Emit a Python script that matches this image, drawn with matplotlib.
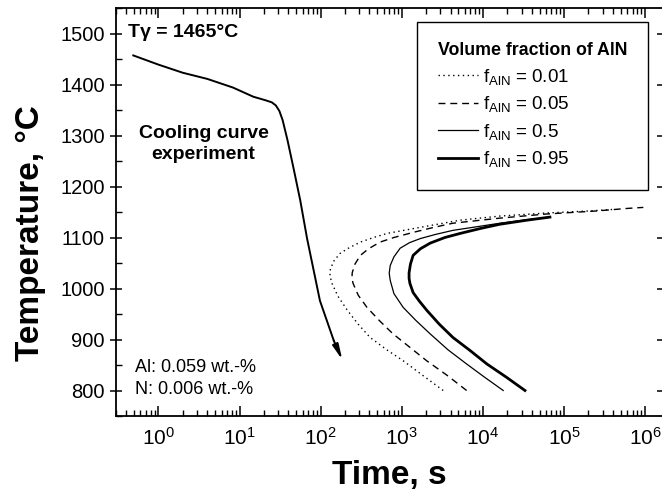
import matplotlib
matplotlib.use('Agg')
import matplotlib.pyplot as plt
from matplotlib.ticker import LogLocator, MultipleLocator, NullFormatter

plt.rcParams['font.family'] = ['Liberation Sans', 'DejaVu Sans']
plt.rcParams['mathtext.fontset'] = 'custom'
plt.rcParams['mathtext.rm'] = 'Liberation Sans'
plt.rcParams['mathtext.it'] = 'Liberation Sans:italic'
plt.rcParams['mathtext.bf'] = 'Liberation Sans:bold'

# cooling curve (time s, temperature C)
cool_t = [0.49, 1.0, 2.0, 4.0, 8.3, 14.8, 21, 25, 28, 31, 34, 39, 46, 56, 68, 98, 145]
cool_T = [1457, 1439, 1423, 1411, 1394, 1376, 1369, 1365, 1359, 1348, 1330, 1291, 1238, 1173, 1098, 976, 898]
arrow_tip = (185, 860)

# precipitation curves for the AlN volume fractions (time s, temperature C)
f01_t = [3240, 1800, 1047, 650, 407, 290, 214, 163, 138, 130, 132, 147, 174, 225, 309, 450, 660, 1700, 5250, 1.62e4, 6e4, 2e5, 4e5]
f01_T = [800, 830, 858, 880, 904, 930, 957, 985, 1010, 1025, 1039, 1055, 1069, 1080, 1091, 1100, 1108, 1120, 1134, 1142, 1148, 1152, 1155]
f05_t = [6300, 3600, 2040, 1250, 780, 530, 372, 290, 251, 243, 245, 265, 309, 390, 540, 800, 1380, 2500, 4270, 1.62e4, 6e4, 2.5e5, 6e5, 9.5e5]
f05_T = [800, 830, 858, 885, 911, 937, 963, 987, 1010, 1020, 1031, 1048, 1065, 1078, 1091, 1100, 1110, 1120, 1128, 1138, 1146, 1152, 1157, 1159]
f50_t = [1.78e4, 1.05e4, 6300, 3700, 2240, 1500, 1040, 800, 720, 700, 720, 800, 955, 1250, 1700, 2600, 4270, 1.62e4, 3.5e4, 6.7e4]
f50_T = [800, 826, 852, 880, 911, 937, 963, 990, 1016, 1030, 1045, 1062, 1079, 1090, 1098, 1106, 1114, 1128, 1135, 1140]
f95_t = [3.3e4, 1.95e4, 1.12e4, 7000, 4270, 2900, 2040, 1650, 1380, 1260, 1230, 1230, 1280, 1380, 1700, 2240, 3400, 5250, 9500, 1.62e4, 3.5e4, 6.7e4]
f95_T = [800, 826, 852, 878, 904, 930, 957, 975, 992, 1010, 1020, 1031, 1048, 1065, 1078, 1089, 1100, 1108, 1118, 1126, 1134, 1140]

labels = ['0.01', '0.05', '0.5', '0.95']
xticks = [1e0, 1e1, 1e2, 1e3, 1e4, 1e5, 1e6]

fig = plt.figure(figsize=(6.62, 5.0), dpi=100)
ax = fig.add_axes([116 / 662, 1 - 416 / 500, (663 - 116) / 662, 408 / 500])

ax.plot(cool_t, cool_T, color='black', lw=1.4)
ax.annotate('', xy=arrow_tip, xytext=(cool_t[-1], cool_T[-1]),
            arrowprops=dict(arrowstyle='-|>,head_length=0.9,head_width=0.18',
                            color='black', lw=1.4, shrinkA=0, shrinkB=0))

ax.plot(f01_t, f01_T, color='black', lw=1.0, ls=(0, (1, 2.5)),
        label=r'f$_{\mathrm{AlN}}$ = ' + labels[0])
ax.plot(f05_t, f05_T, color='black', lw=1.0, ls=(0, (5, 3.5)),
        label=r'f$_{\mathrm{AlN}}$ = ' + labels[1])
ax.plot(f50_t, f50_T, color='black', lw=0.9,
        label=r'f$_{\mathrm{AlN}}$ = ' + labels[2])
ax.plot(f95_t, f95_T, color='black', lw=2.0,
        label=r'f$_{\mathrm{AlN}}$ = ' + labels[3])

ax.set_xscale('log')
ax.set_xlim(0.3, 1.66e6)
ax.set_ylim(750, 1550)

ax.set_xticks(xticks)
ax.xaxis.set_minor_locator(LogLocator(base=10, subs=range(2, 10), numticks=12))
ax.xaxis.set_minor_formatter(NullFormatter())
ax.yaxis.set_major_locator(MultipleLocator(100))
ax.yaxis.set_minor_locator(MultipleLocator(50))

ax.tick_params(axis='x', which='major', direction='in', length=7, width=1.1,
               top=True, labelsize=15, pad=8)
ax.tick_params(axis='x', which='minor', direction='in', length=4, width=1.0, top=True)
ax.tick_params(axis='y', which='major', direction='inout', length=9, width=1.1,
               right=True, labelsize=14.5)
ax.tick_params(axis='y', which='minor', direction='in', length=4, width=1.0, right=False)
for sp in ax.spines.values():
    sp.set_linewidth(1.3)

ax.set_xlabel('Time, s', fontsize=24, fontweight='bold', labelpad=8)
ax.set_ylabel('Temperature, °C', fontsize=24, fontweight='bold', labelpad=10)
ax.yaxis.label.set_y(0.449)

ax.text(0.022, 0.962, 'Tγ = 1465°C', transform=ax.transAxes,
        fontsize=14, fontweight='bold', va='top', ha='left')
ax.text(0.16, 0.667, 'Cooling curve\nexperiment', transform=ax.transAxes,
        fontsize=14, fontweight='bold', ha='center', va='center', linespacing=1.3)
ax.text(0.035, 0.092, 'Al: 0.059 wt.-%\nN: 0.006 wt.-%', transform=ax.transAxes,
        fontsize=13, ha='left', va='center', linespacing=1.4)

leg = ax.legend(loc='upper right', bbox_to_anchor=(0.9726, 0.966), borderaxespad=0,
                title='Volume fraction of AlN',
                title_fontproperties={'weight': 'bold', 'size': 12.8},
                fontsize=13.5, handlelength=2.15, handletextpad=0.27,
                labelspacing=0.4, borderpad=1.1, fancybox=False,
                framealpha=1, edgecolor='black', alignment='left')
leg.get_frame().set_linewidth(1.0)

fig.savefig('out.png', dpi=100)
